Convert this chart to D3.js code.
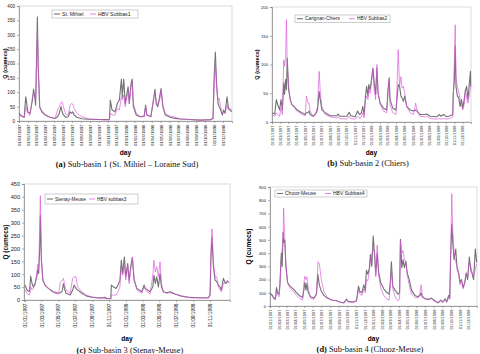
<!DOCTYPE html>
<html>
<head>
<meta charset="utf-8">
<script src="https://cdn.jsdelivr.net/npm/d3@7"></script>
<style>
  body { margin: 0; background: #fff; }
  svg { display: block; }
</style>
</head>
<body>
<div id="chart"></div>
<script>
{
  // day index = days since 01/01/1997
  const daysA = [0,9,18,23,25,30,38,46,50,54,57,63,66,71,78,89,106,124,132,138,144,148,152,160,169,175,180,184,189,198,215,238,267,301,310,313,319,329,337,344,351,354,359,364,370,374,378,384,388,392,402,415,429,434,438,452,461,466,470,476,482,487,493,501,518,535,553,587,621,656,665,668,673,677,682,686,691,697,701,706,713,718,724,729];
  const obsA = [27,17,13,84,73,32,27,73,110,84,55,362,188,50,32,21,13,9,15,27,50,32,21,13,15,32,27,32,21,13,8,6,5,5,6,73,38,32,61,73,146,84,146,61,96,119,61,131,146,50,21,15,17,55,21,15,73,110,61,50,84,113,50,21,13,9,7,5,3,5,9,131,240,131,61,50,38,21,38,27,84,44,38,32];
  const simA = [21,15,13,50,44,27,20,84,96,96,73,310,177,44,38,23,13,9,38,50,64,67,50,23,21,55,61,59,44,27,15,8,6,3,3,27,21,21,44,38,84,73,90,50,84,102,61,119,131,61,27,15,15,50,21,15,79,96,73,55,73,108,55,27,17,13,7,5,3,3,8,96,206,119,73,79,50,27,32,27,55,38,44,38];

  const daysB = [0,10,16,21,28,33,38,43,46,50,53,56,61,67,73,79,92,110,122,126,132,136,140,150,159,167,173,177,183,195,214,238,242,248,275,283,289,305,314,321,328,333,338,343,347,352,355,360,366,370,375,380,385,389,397,409,421,426,430,433,443,455,463,468,473,477,482,487,494,507,519,527,532,543,562,568,580,604,614,620,629,641,653,663,665,669,672,675,680,685,690,695,700,706,709,714,719,724,728,729];
  const obsB = [16,14,39,30,21,39,21,68,48,74,56,111,56,39,30,28,21,16,13,16,16,19,13,10,13,21,53,39,21,16,11,11,14,10,10,17,11,9,19,13,16,27,13,45,62,45,65,56,77,94,68,48,94,50,33,24,21,59,77,39,24,21,65,62,45,42,36,45,27,21,19,21,19,13,13,14,10,9,13,10,13,9,11,13,50,74,132,62,45,42,27,39,24,42,53,62,39,68,88,62];
  const simB = [13,10,16,13,10,24,13,108,97,111,178,97,62,39,30,27,19,13,11,45,33,33,19,10,13,27,88,53,27,13,9,7,9,6,5,10,6,5,10,7,9,16,7,39,45,39,56,50,74,91,56,39,100,50,30,19,16,53,74,30,16,13,126,62,79,59,62,50,27,16,13,33,21,10,9,10,6,5,6,5,6,5,6,9,39,108,169,79,62,53,39,30,21,33,56,42,33,48,59,65];

  const daysC = [0,6,16,20,25,30,36,42,46,49,53,55,59,64,72,84,102,121,127,133,139,142,148,163,172,177,184,190,205,223,247,271,289,295,310,312,319,329,336,343,348,353,359,364,371,376,383,388,394,404,422,430,435,452,462,466,471,476,482,488,493,500,512,524,542,566,596,633,663,669,672,676,681,687,693,699,705,710,717,722,726,731,737];
  const obsC = [58,39,32,93,64,51,64,90,118,103,206,328,154,77,58,45,32,26,28,32,64,45,26,19,39,58,45,39,26,15,10,8,10,6,6,58,51,45,58,77,154,103,167,90,141,77,135,165,77,45,32,58,45,32,51,96,64,90,51,103,51,32,28,32,23,15,10,9,9,19,167,244,129,77,71,58,51,39,84,71,64,71,71];
  const simC = [39,26,19,51,39,45,58,103,139,116,270,405,154,84,58,45,28,23,67,75,84,64,39,26,84,90,90,51,32,18,10,8,8,5,5,19,19,19,32,51,129,96,135,77,135,64,129,167,90,39,26,51,39,23,96,154,109,129,90,148,64,32,26,28,23,15,9,8,8,26,193,276,141,90,90,51,39,32,64,64,71,77,64];

  const daysD = [0,7,14,19,23,27,32,35,40,43,46,48,52,56,62,70,82,94,106,115,120,123,127,130,135,143,155,164,169,174,181,190,202,217,235,246,261,270,276,293,305,312,317,324,331,336,340,345,350,354,359,364,369,373,378,383,390,401,413,420,425,428,433,441,451,457,460,465,469,474,479,484,491,499,511,522,529,533,537,547,559,569,581,593,602,610,618,623,630,634,637,641,644,649,655,660,665,670,675,681,687,692,697,703,708,712,718,724,729];
  const obsD = [96,85,60,55,140,100,90,170,400,300,560,480,500,300,180,150,130,100,75,65,130,180,120,170,100,70,60,90,240,160,110,80,60,45,40,30,25,50,35,30,40,150,110,100,160,120,270,240,280,390,300,530,380,240,400,260,180,130,100,90,200,335,150,120,90,100,505,290,350,290,340,250,200,120,80,70,80,100,70,55,50,60,40,25,45,30,55,30,80,60,380,620,500,350,430,280,250,180,200,140,180,250,200,370,270,250,200,430,330];
  const simD = [91,75,50,45,110,85,70,150,380,420,480,740,520,320,170,140,110,80,55,45,180,225,200,220,130,60,50,100,335,320,200,110,65,45,40,28,22,55,30,28,35,120,90,80,130,100,200,190,260,340,390,430,400,220,460,240,140,80,50,45,170,280,130,70,40,50,490,400,420,350,330,230,160,90,65,60,100,160,80,50,50,55,35,22,40,28,50,30,60,50,360,850,600,400,330,300,260,160,200,130,170,250,220,340,300,260,220,280,320];

  const monthlyTicks = [
    "01/01/1997","01/02/1997","01/03/1997","01/04/1997","01/05/1997","01/06/1997",
    "01/07/1997","01/08/1997","01/09/1997","01/10/1997","01/11/1997","01/12/1997",
    "01/01/1998","01/02/1998","01/03/1998","01/04/1998","01/05/1998","01/06/1998",
    "01/07/1998","01/08/1998","01/09/1998","01/10/1998","01/11/1998","01/12/1998"
  ];
  const bimonthlyTicks = [
    "01/01/1997","01/03/1997","01/05/1997","01/07/1997","01/09/1997","01/11/1997",
    "01/01/1998","01/03/1998","01/05/1998","01/07/1998","01/09/1998","01/11/1998"
  ];

  const yTicksA = [0,50,100,150,200,250,300,350,400];
  const yTicksB = [0,50,100,150,200];
  const yTicksC = [0,50,100,150,200,250,300,350,400,450];
  const yTicksD = [0,100,200,300,400,500,600,700,800,900];

  const OBS_COLOR = "#727272";
  const SIM_COLOR = "#dc52dc";

  const START = new Date(1997, 0, 1);
  const dayToDate = d => d3.timeDay.offset(START, d);
  const parseTick = s => {
    const p = s.split("/");
    return new Date(+p[2], +p[1] - 1, +p[0]);
  };

  const svg = d3.select("#chart")
    .append("svg")
    .attr("width", 480)
    .attr("height", 354);

  svg.append("rect").attr("width", 480).attr("height", 354).attr("fill", "#fff");

  const panels = [
    {
      days: daysA, obs: obsA, sim: simA, ticks: monthlyTicks, yTicks: yTicksA,
      obsName: "St. Mihiel", simName: "HBV Subbas1",
      tag: "(a)", caption: " Sub-basin 1 (St. Mihiel \u2013 Loraine Sud)",
      box: { x0: 19, x1: 232, y0: 6, y1: 121 }, dom: [0, 730],
      tickFont: 4.6, xFont: 4.3, legFont: 5.2, titleFont: 5.6,
      yTitleX: 5, dayY: 155, capX: 127, capY: 167,
      leg: { x: 52, y: 10, w: 86, h: 8, gap: 36 }
    },
    {
      days: daysB, obs: obsB, sim: simB, ticks: monthlyTicks, yTicks: yTicksB,
      obsName: "Carignan-Chiers", simName: "HBV Subbas2",
      tag: "(b)", caption: " Sub-basin 2 (Chiers)",
      box: { x0: 272, x1: 471, y0: 7, y1: 122 }, dom: [0, 730],
      tickFont: 4.2, xFont: 4.0, legFont: 4.8, titleFont: 5.6,
      yTitleX: 257, dayY: 155, capX: 368, capY: 166,
      leg: { x: 295, y: 15, w: 95, h: 7.5, gap: 52 }
    },
    {
      days: daysC, obs: obsC, sim: simC, ticks: bimonthlyTicks, yTicks: yTicksC,
      obsName: "Stenay-Meuse", simName: "HBV subbas3",
      tag: "(c)", caption: " Sub-basin 3 (Stenay-Meuse)",
      box: { x0: 24, x1: 230, y0: 184, y1: 300 }, dom: [-4, 741],
      tickFont: 5.6, xFont: 4.8, legFont: 4.8, titleFont: 6.4,
      yTitleX: 6, dayY: 341, capX: 130, capY: 353,
      leg: { x: 45, y: 194, w: 93, h: 10, gap: 42 }
    },
    {
      days: daysD, obs: obsD, sim: simD, ticks: monthlyTicks, yTicks: yTicksD,
      obsName: "Chooz-Meuse", simName: "HBV Subbas4",
      tag: "(d)", caption: " Sub-basin 4 (Chooz-Meuse)",
      box: { x0: 270, x1: 477, y0: 187, y1: 306 }, dom: [0, 730],
      tickFont: 4.2, xFont: 4.0, legFont: 5.0, titleFont: 6.6,
      yTitleX: 249, dayY: 341, capX: 370, capY: 352,
      leg: { x: 275, y: 190, w: 92, h: 7, gap: 48 }
    }
  ];

  function drawPanel(p) {
    const b = p.box;
    const x = d3.scaleTime()
      .domain([dayToDate(p.dom[0]), dayToDate(p.dom[1])])
      .range([b.x0, b.x1]);
    const y = d3.scaleLinear()
      .domain([0, p.yTicks[p.yTicks.length - 1]])
      .range([b.y1, b.y0]);

    const g = svg.append("g");

    // plot area frame
    g.append("rect")
      .attr("x", b.x0).attr("y", b.y0)
      .attr("width", b.x1 - b.x0).attr("height", b.y1 - b.y0)
      .attr("fill", "none")
      .attr("stroke", "#c4c4c4")
      .attr("stroke-width", 0.6);

    // series: observed first, simulated drawn over it
    const pts = (vals) => p.days.map((d, i) => [dayToDate(d), vals[i]]);
    const line = d3.line().x(d => x(d[0])).y(d => y(d[1]));

    g.append("path")
      .attr("d", line(pts(p.obs)))
      .attr("fill", "none")
      .attr("stroke", OBS_COLOR)
      .attr("stroke-width", 1.1)
      .attr("stroke-linejoin", "round");
    g.append("path")
      .attr("d", line(pts(p.sim)))
      .attr("fill", "none")
      .attr("stroke", SIM_COLOR)
      .attr("stroke-width", 0.9)
      .attr("stroke-opacity", 0.72)
      .attr("stroke-linejoin", "round");

    // y axis
    const yAxis = g.append("g")
      .attr("transform", `translate(${b.x0},0)`)
      .call(d3.axisLeft(y).tickValues(p.yTicks).tickSize(2).tickPadding(2).tickFormat(d3.format("d")));
    yAxis.select(".domain").attr("stroke", "#808080").attr("stroke-width", 0.7);
    yAxis.selectAll(".tick line").attr("stroke", "#808080").attr("stroke-width", 0.6);
    yAxis.selectAll("text")
      .attr("font-family", "Liberation Sans, Arial, sans-serif")
      .attr("font-size", p.tickFont)
      .attr("fill", "#222");

    // x axis
    const tickDates = p.ticks.map(parseTick);
    const xAxis = g.append("g")
      .attr("transform", `translate(0,${b.y1})`)
      .call(d3.axisBottom(x).tickValues(tickDates).tickSize(2).tickFormat((d, i) => p.ticks[i]));
    xAxis.select(".domain").attr("stroke", "#808080").attr("stroke-width", 0.7);
    xAxis.selectAll(".tick line").attr("stroke", "#808080").attr("stroke-width", 0.6);
    xAxis.selectAll("text")
      .attr("font-family", "Liberation Sans, Arial, sans-serif")
      .attr("font-size", p.xFont)
      .attr("fill", "#222")
      .attr("transform", "rotate(-90)")
      .attr("x", -3.5)
      .attr("y", 0)
      .attr("dy", "0.35em")
      .style("text-anchor", "end");

    // titles
    g.append("text")
      .attr("transform", `translate(${p.yTitleX},${(b.y0 + b.y1) / 2}) rotate(-90)`)
      .attr("text-anchor", "middle")
      .attr("dy", "0.35em")
      .attr("font-family", "Liberation Sans, Arial, sans-serif")
      .attr("font-weight", "bold")
      .attr("font-size", p.titleFont)
      .text("Q (cumecs)");

    g.append("text")
      .attr("x", (b.x0 + b.x1) / 2)
      .attr("y", p.dayY)
      .attr("text-anchor", "middle")
      .attr("font-family", "Liberation Sans, Arial, sans-serif")
      .attr("font-weight", "bold")
      .attr("font-size", 6.6)
      .text("day");

    const cap = g.append("text")
      .attr("x", p.capX)
      .attr("y", p.capY)
      .attr("text-anchor", "middle")
      .attr("font-family", "Liberation Serif, Times New Roman, serif")
      .attr("font-size", 8.4)
      .attr("fill", "#111");
    cap.append("tspan").attr("font-weight", "bold").text(p.tag);
    cap.append("tspan").text(p.caption);

    // legend
    const L = p.leg;
    const gl = g.append("g");
    gl.append("rect")
      .attr("x", L.x).attr("y", L.y)
      .attr("width", L.w).attr("height", L.h)
      .attr("fill", "#fff")
      .attr("stroke", "#9a9a9a")
      .attr("stroke-width", 0.5);
    const items = [
      { name: p.obsName, color: OBS_COLOR, w: 1.1, op: 1 },
      { name: p.simName, color: SIM_COLOR, w: 0.9, op: 0.8 }
    ];
    items.forEach((it, i) => {
      const ox = L.x + 2 + i * L.gap;
      const cy = L.y + L.h / 2;
      gl.append("line")
        .attr("x1", ox).attr("x2", ox + 6)
        .attr("y1", cy).attr("y2", cy)
        .attr("stroke", it.color)
        .attr("stroke-opacity", it.op)
        .attr("stroke-width", it.w);
      gl.append("text")
        .attr("x", ox + 8)
        .attr("y", cy)
        .attr("dy", "0.35em")
        .attr("font-family", "Liberation Sans, Arial, sans-serif")
        .attr("font-size", p.legFont)
        .attr("fill", "#222")
        .text(it.name);
    });
  }

  panels.forEach(drawPanel);
}
</script>
</body>
</html>
